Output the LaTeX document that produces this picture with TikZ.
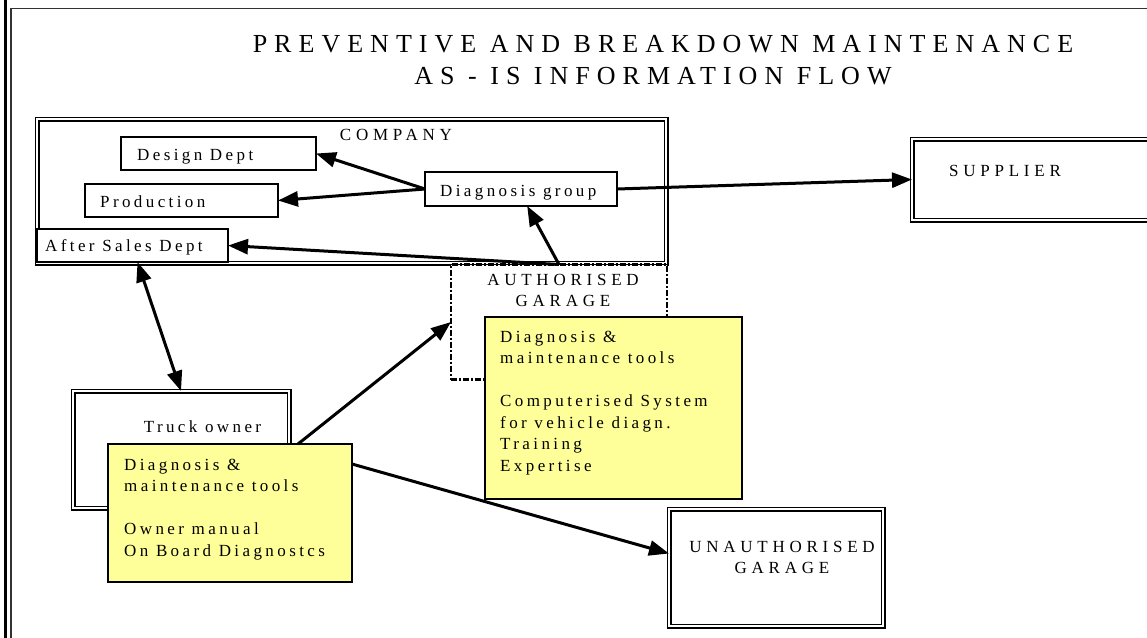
\documentclass[tikz,border=0pt]{standalone}
\usepackage{fontspec}
\setmainfont{Liberation Serif}
\newfontfamily\spaced[LetterSpace=20]{Liberation Serif}
\newfontfamily\capspaced[LetterSpace=28]{Liberation Serif}
\newfontfamily\titlefont[LetterSpace=27]{Liberation Serif}
\usetikzlibrary{arrows.meta,calc}
\definecolor{notefill}{HTML}{FFFF99}

\tikzset{
  box/.style={draw, line width=1.4pt, fill=white, inner sep=0pt, outer sep=0pt},
  dbox/.style={draw, double, double distance=2pt, line width=1.5pt, fill=white, inner sep=0pt, outer sep=0pt},
  dashbox/.style={draw, line width=2.6pt, dash pattern=on 6pt off 2pt on 2pt off 2pt, fill=white, inner sep=0pt, outer sep=0pt},
  note/.style={draw, line width=1.2pt, fill=notefill, inner sep=0pt, outer sep=0pt},
  lbl/.style={font=\spaced\fontsize{17}{21.5}\selectfont, inner sep=0pt, anchor=base west},
  caplbl/.style={font=\capspaced\fontsize{17}{21}\selectfont, inner sep=0pt, anchor=base},
  titlelbl/.style={font=\titlefont\fontsize{26}{30}\selectfont, inner sep=0pt, anchor=base},
  flow/.style={line width=3pt, -{Triangle[length=20pt,width=15pt]}},
  biflow/.style={line width=3pt, {Triangle[length=20pt,width=15pt]}-{Triangle[length=20pt,width=15pt]}},
}

\begin{document}
\begin{tikzpicture}[x=1pt,y=-1pt]
\useasboundingbox (0,0) rectangle (1147,637);

% page frame
\draw[line width=3pt] (5,-5) -- (5,645);
\draw[line width=1.8pt, draw=black!80] (11,645) -- (11,8.5) -- (1155,8.5);

% title
\node[titlelbl] (title1) at (663,52) {PREVENTIVE AND BREAKDOWN MAINTENANCE};
\node[titlelbl] (title2) at (653,84) {AS - IS INFORMATION FLOW};

% company and its departments
\node[dbox, minimum width=629pt, minimum height=144pt] (company) at (351.5,191) {};
\node[caplbl] (companyt) at (396,140) {COMPANY};
\node[box, minimum width=195pt, minimum height=33pt] (dd) at (218.5,153.5) {};
\node[lbl] (ddt) at (137,160) {Design Dept};
\node[box, minimum width=193pt, minimum height=33pt] (prod) at (181.5,200.5) {};
\node[lbl] (prodt) at (100,207) {Production};
\node[box, minimum width=191pt, minimum height=33pt] (as) at (132.5,245.5) {};
\node[lbl] (ast) at (45,251) {After Sales Dept};
\node[box, minimum width=192pt, minimum height=34pt] (dg) at (521,189) {};
\node[lbl] (dgt) at (440,196) {Diagnosis group};

% supplier
\node[dbox, minimum width=243pt, minimum height=81pt] (sup) at (1033.5,179.5) {};
\node[caplbl] (supt) at (1005,176) {SUPPLIER};

% authorised garage
\node[dashbox, minimum width=216pt, minimum height=115pt] (ag) at (559,322) {};
\node[caplbl] (agt1) at (563,285) {AUTHORISED};
\node[caplbl] (agt2) at (563,306) {GARAGE};
\node[note, minimum width=257pt, minimum height=182pt] (gy) at (613.5,408) {};
\node[lbl] (gyt) at (500,342) {\parbox[t]{235pt}{Diagnosis \&\\
maintenance tools\\[21.5pt]
Computerised System\\
for vehicle diagn.\\
Training\\
Expertise}};

% truck owner
\node[dbox, minimum width=216pt, minimum height=117pt] (truck) at (181,449.5) {};
\node[caplbl, font=\spaced\fontsize{17}{21}\selectfont] (truckt) at (202.5,432) {Truck owner};
\node[note, minimum width=244pt, minimum height=138pt] (ty) at (230,513) {};
\node[lbl] (tyt) at (124,470) {\parbox[t]{225pt}{Diagnosis \&\\
maintenance tools\\[21.5pt]
Owner manual\\
On Board Diagnostcs}};

% unauthorised garage
\node[dbox, minimum width=214pt, minimum height=117pt] (ug) at (776,567.5) {};
\node[caplbl] (ugt1) at (782,552) {UNAUTHORISED};
\node[caplbl] (ugt2) at (782,573) {GARAGE};

% information flows
\draw[flow] (dg.west) -- (dd.east);
\draw[flow] (dg.west) -- (prod.east);
\draw[flow] (dg.east) -- (sup.west);
\draw[flow] (ag.north) -- (dg.-70);
\draw[flow] (ag.north) -- (as.east);
\draw[biflow] ($(as.south)+(5,0)$) -- (truck.north);
\draw[flow] ($(ty.north east)+(-54,0)$) -- (ag.west);
\draw[flow] ($(ty.north east)+(0,20)$) -- ($(ug.west)+(0,-14)$);
\end{tikzpicture}
\end{document}
